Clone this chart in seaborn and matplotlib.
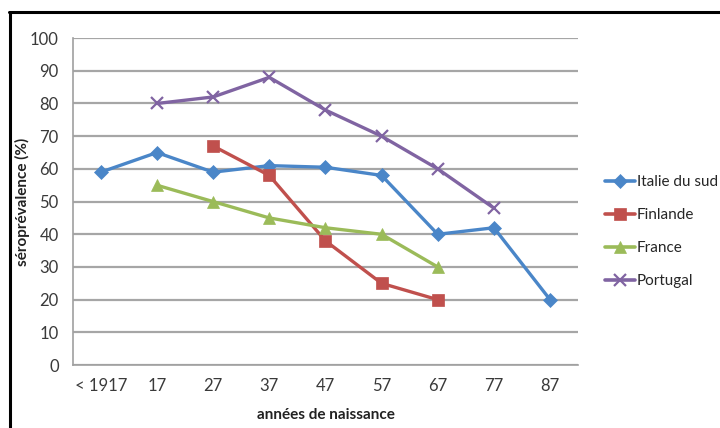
import matplotlib
matplotlib.use("Agg")
import matplotlib.pyplot as plt
from matplotlib.lines import Line2D
import numpy as np
import pandas as pd
import seaborn as sns

categories = ["< 1917", "17", "27", "37", "47", "57", "67", "77", "87"]

italie_x = ["< 1917", "17", "27", "37", "47", "57", "67", "77", "87"]
italie_y = [59, 65, 59, 61, 60.5, 58, 40, 42, 20]

finlande_x = ["27", "37", "47", "57", "67"]
finlande_y = [67, 58, 38, 25, 20]

france_x = ["17", "27", "37", "47", "57", "67"]
france_y = [55, 50, 45, 42, 40, 30]

portugal_x = ["17", "27", "37", "47", "57", "67", "77"]
portugal_y = [80, 82, 88, 78, 70, 60, 48]

series_names = ["Italie du sud", "Finlande", "France", "Portugal"]
colors = ["#4A86C8", "#C0504D", "#9BBB59", "#8064A2"]
markers = ["D", "s", "^", "x"]
marker_sizes = [7, 9, 9, 9]

frames = []
for name, xs, ys in [("Italie du sud", italie_x, italie_y),
                     ("Finlande", finlande_x, finlande_y),
                     ("France", france_x, france_y),
                     ("Portugal", portugal_x, portugal_y)]:
    frames.append(pd.DataFrame({"cohorte": xs, "valeur": ys, "pays": name}))
df = pd.concat(frames, ignore_index=True)
df["pos"] = df["cohorte"].map({c: i for i, c in enumerate(categories)})

sns.set_theme(style="white")
plt.rcParams["font.family"] = ["Lato", "DejaVu Sans"]

fig = plt.figure(figsize=(7.2, 4.28), dpi=100)
ax = fig.add_axes([0.101, 0.147, 0.702, 0.764])

for name, col, mk, ms in zip(series_names, colors, markers, marker_sizes):
    sub = df[df["pays"] == name]
    sns.lineplot(data=sub, x="pos", y="valeur", ax=ax, color=col,
                 linewidth=2.4, marker=mk, markersize=ms,
                 markeredgecolor=col, markeredgewidth=1.6 if mk == "x" else 0.5,
                 markerfacecolor=col, legend=False, zorder=3)

ax.set_xlim(-0.5, len(categories) - 0.5)
ax.set_ylim(0, 100)
ax.set_yticks(np.arange(0, 101, 10))
ax.set_xticks(np.arange(len(categories)))
ax.set_xticklabels(categories)
ax.set_xticks(np.arange(-0.5, len(categories), 1), minor=True)
ax.tick_params(axis="x", which="major", length=0, pad=9, labelsize=12, colors="#3A3A3A")
ax.tick_params(axis="x", which="minor", length=5, width=1.2, color="#A0A0A0", direction="out")
ax.tick_params(axis="y", which="major", length=5, width=1.2, color="#A0A0A0",
               direction="out", labelsize=12, labelcolor="#3A3A3A", pad=5)

ax.grid(axis="y", color="#A6A6A6", linewidth=1.6)
ax.set_axisbelow(True)
for side in ["top", "right"]:
    ax.spines[side].set_visible(False)
for side in ["left", "bottom"]:
    ax.spines[side].set_color("#A0A0A0")
    ax.spines[side].set_linewidth(1.2)

ax.set_xlabel("années de naissance", fontsize=11, fontweight="bold", color="#222222")
ax.set_ylabel("séroprévalence (%)", fontsize=11, fontweight="bold", color="#222222")
ax.xaxis.set_label_coords(0.5, -0.13)
ax.yaxis.set_label_coords(-0.085, 0.5)

handles = [Line2D([0], [0], color=c, marker=m, markersize=ms, linewidth=2.6,
                  markeredgecolor=c, markeredgewidth=1.6 if m == "x" else 0.5)
           for c, m, ms in zip(colors, markers, marker_sizes)]
fig.legend(handles, series_names, loc="upper left", bbox_to_anchor=(0.84, 0.591),
           frameon=False, fontsize=11, handlelength=2.0, handletextpad=0.1,
           labelspacing=1.25, borderaxespad=0, borderpad=0)

# frame lines along the top and left edges
fig.add_artist(Line2D([0.013, 1.0], [0.972, 0.972], color="black", linewidth=2.2,
                      transform=fig.transFigure))
fig.add_artist(Line2D([0.014, 0.014], [0.0, 0.972], color="black", linewidth=2.2,
                      transform=fig.transFigure))

fig.savefig("out.png", dpi=100, facecolor="white")
